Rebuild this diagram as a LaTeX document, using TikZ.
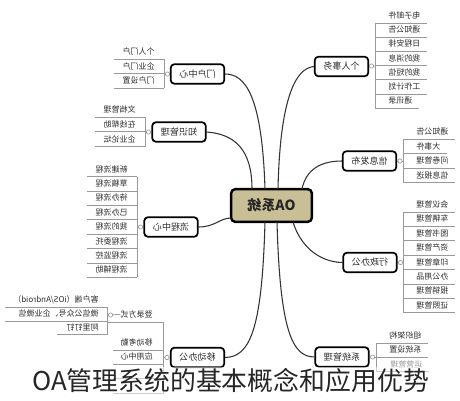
\documentclass[tikz,border=0pt]{standalone}
\usepackage{fontspec}
\usepackage{graphicx}
\setmainfont{Noto Sans CJK SC}
\usetikzlibrary{calc}
\definecolor{oaTan}{HTML}{C9BF96}
\definecolor{oaLine}{HTML}{9A9A9A}
\definecolor{oaText}{HTML}{2E2E2E}
\newcommand\oarlist[5]{%
  \foreach \t [count=\i from 0] in {#5} {%
    \pgfmathsetmacro\yy{#3+#4*\i}
    \node[itm, anchor=base west] (#1\i) at (#2+13, \yy-4.5) {\reflectbox{\t}};
    \draw[ul] (#2,\yy) -- ($(#1\i.east |- #2,\yy)+(6,0)$);
  }}
\newcommand\oallist[5]{%
  \foreach \t [count=\i from 0] in {#5} {%
    \pgfmathsetmacro\yy{#3+#4*\i}
    \node[itm, anchor=base east] (#1\i) at (#2-9, \yy-4.5) {\reflectbox{\t}};
    \draw[ul] ($(#1\i.west |- #2,\yy)+(-8,0)$) -- (#2,\yy);
  }}
\begin{document}
\begin{tikzpicture}[x=0.75pt,y=-0.75pt,
  topic/.style={draw=black, line width=1.3pt, rounded corners=2.5pt, fill=white,
    minimum width=40pt, minimum height=14.5pt, inner sep=0pt,
    font=\fontsize{6.8}{8}\selectfont, text=oaText},
  hub/.style={topic, fill=oaTan, minimum width=60.5pt, minimum height=24.5pt,
    line width=1.8pt, rounded corners=3pt, font=\fontsize{10.5}{12}\selectfont\bfseries, text=black!85},
  itm/.style={inner sep=0pt, font=\fontsize{6}{7}\selectfont, text=oaText},
  ul/.style={draw=oaLine, line width=0.6pt},
  conn/.style={draw=black!80, line width=0.8pt},
  knob/.style={circle, draw=oaLine, fill=white, inner sep=0pt, minimum size=3.2pt, line width=0.5pt}]
\fill[white] (0,0) rectangle (460,400);
\useasboundingbox (0,0) rectangle (460,400);

% main nodes
\node[hub] (c) at (271.5,205.5) {\reflectbox{OA系统}};
\node[topic] (pa) at (341.5,66.5) {\reflectbox{个人事务}};
\node[topic] (mh) at (197.5,74) {\reflectbox{门户中心}};
\node[topic] (km) at (179,132) {\reflectbox{知识管理}};
\node[topic] (lc) at (171,227) {\reflectbox{流程中心}};
\node[topic] (xx) at (369.5,161) {\reflectbox{信息发布}};
\node[topic] (xz) at (370,262.5) {\reflectbox{行政办公}};
\node[topic] (xt) at (342,357) {\reflectbox{系统管理}};
\node[topic] (yd) at (197.5,357.5) {\reflectbox{移动办公}};

% anchor points on the hub
\coordinate (cT1) at (252,189);
\coordinate (cT2) at (265,189);
\coordinate (cT3) at (278,189);
\coordinate (cT4) at (302,189);
\coordinate (cB1) at (265,222);
\coordinate (cB2) at (277,222);
\coordinate (cB3) at (293,222);
\coordinate (cL) at (231,218);

% connectors
\draw[conn] (km.east) .. controls (235,134) and (252,150) .. (cT1);
\draw[conn] (mh.east) .. controls (245,74) and (262,95) .. (cT2);
\draw[conn] (pa.west) .. controls (295,68) and (280,100) .. (cT3);
\draw[conn] (xx.west) .. controls (320,161) and (306,170) .. (cT4);
\draw[conn] (lc.east) .. controls (215,227) and (220,218) .. (cL);
\draw[conn] (xz.west) .. controls (318,262) and (300,245) .. (cB3);
\draw[conn] (xt.west) .. controls (292,357) and (280,330) .. (cB2);
\draw[conn] (yd.east) .. controls (250,357) and (262,330) .. (cB1);

% 个人事务
\draw[ul] (pa.east) -- (375,66);
\node[knob] (pak) at (371.5,66) {};
\draw[ul] (375,23) -- (375,108.2);
\oarlist{pa}{375}{23}{14.2}{电子邮件,通知公告,日程安排,我的消息,我的短信,工作计划,通讯录}

% 门户中心
\draw[ul] (mh.west) -- (164,74);
\node[knob] (mhk) at (167.5,74) {};
\draw[ul] (164,59) -- (164,88);
\oallist{mh}{164}{59}{14.5}{个人门户,企业门户,门户设置}

% 知识管理
\draw[ul] (km.west) -- (145,132);
\node[knob] (kmk) at (148.5,132) {};
\draw[ul] (145,117) -- (145,146.6);
\oallist{km}{145}{117}{14.8}{文档管理,在线帮助,企业论坛}

% 流程中心
\draw[ul] (lc.west) -- (137,227);
\node[knob] (lck) at (140.5,227) {};
\draw[ul] (137,176.5) -- (137,277.3);
\oallist{lc}{137}{176.5}{14.4}{新建流程,草稿流程,待办流程,已办流程,我的流程,流程委托,流程监控,流程辅助}

% 信息发布
\draw[ul] (xx.east) -- (403,161);
\node[knob] (xxk) at (400,161) {};
\draw[ul] (403,139) -- (403,182.5);
\oarlist{xx}{403}{139}{14.5}{通知公告,大事件,问卷管理,信息报送}

% 行政办公
\draw[ul] (xz.east) -- (403,262.5);
\node[knob] (xzk) at (400.5,262.5) {};
\draw[ul] (403,212) -- (403,312.8);
\oarlist{xz}{403}{212}{14.4}{会议管理,车辆管理,图书管理,资产管理,印章管理,办公用品,报销管理,证照管理}

% 系统管理
\draw[ul] (xt.east) -- (376,357);
\node[knob] (xtk) at (372.5,357) {};
\draw[ul] (376,343) -- (376,371.8);
\oarlist{xt}{376}{343}{14.4}{组织架构,系统设置}
\node[itm, anchor=base west, text=black!40] (xt2) at (390,367.3) {\reflectbox{运营管理}};
\draw[ul] (376,371.8) -- ($(xt2.east |- 376,371.8)+(6,0)$);

% 移动办公
\draw[ul] (yd.west) -- (163.5,357.5);
\node[knob] (ydk) at (167,357.5) {};
\draw[ul] (163.5,322) -- (163.5,393.2);
\node[itm, anchor=base east] (dl) at (153,317.5) {\reflectbox{登录方式}};
\draw[ul] (108,322) -- (163.5,322);
\node[itm, anchor=base east] (kq) at (153,345.5) {\reflectbox{移动考勤}};
\draw[ul] (113,350) -- (163.5,350);
\node[itm, anchor=base east] (yy) at (153,359.9) {\reflectbox{应用中心}};
\draw[ul] (113,364.4) -- (163.5,364.4);
\draw[ul] (113,378.8) -- (163.5,378.8);
\draw[ul] (113,393.2) -- (163.5,393.2);

% 登录方式 children
\draw[ul] (dl.west) -- (107,315);
\node[knob] (dlk) at (110.5,315) {};
\draw[ul] (107,307) -- (107,334.5);
\node[itm, anchor=base east] (kh) at (99,302.5) {\reflectbox{客户端（iOS/Android）}};
\draw[ul] (5,307) -- (107,307);
\node[itm, anchor=base east] (wx) at (99,316.8) {\reflectbox{微信公众号、企业微信}};
\draw[ul] (5,321) -- (107,321);
\node[itm, anchor=base east] (dd) at (99,330.2) {\reflectbox{阿里钉钉}};
\draw[ul] (57,334.5) -- (107,334.5);

% caption
\fill[white, opacity=0.5] (28,367) rectangle (434,397);
\node[anchor=base, inner sep=0pt, font=\fontsize{19.4}{23}\selectfont, text=black!85] (cap) at (230.5,390.5) {OA管理系统的基本概念和应用优势};
\end{tikzpicture}
\end{document}
